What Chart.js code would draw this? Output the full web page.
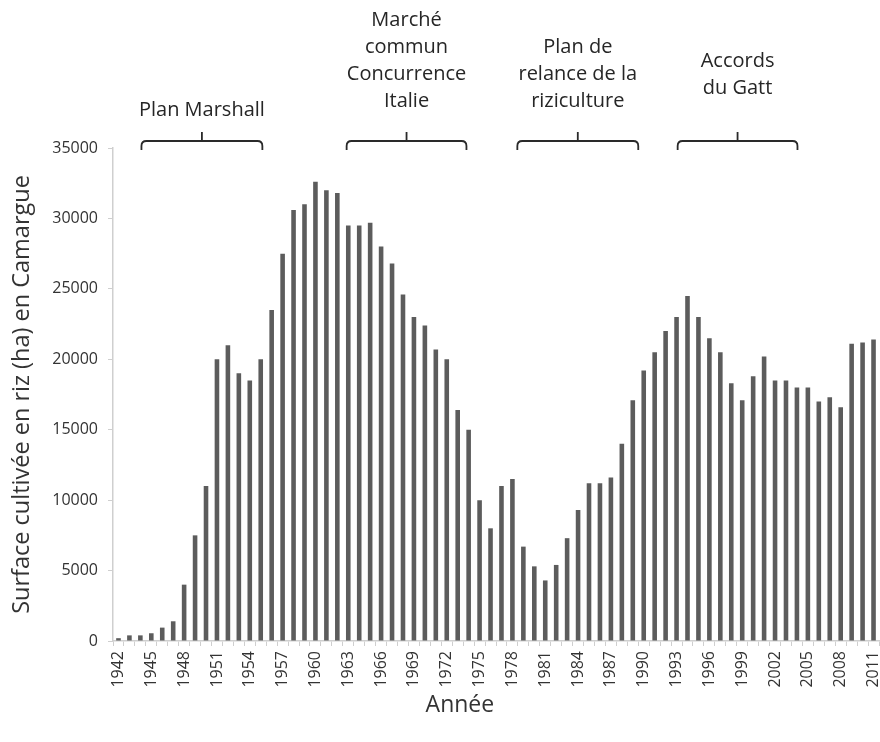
<!DOCTYPE html>
<html><head><meta charset="utf-8">
<script src="https://cdn.jsdelivr.net/npm/chart.js@4"></script>
<style>html,body{margin:0;padding:0;background:#fff;}canvas{display:block;}</style>
</head><body>
<canvas id="c" width="880" height="742"></canvas>
<script>
const years = [];
for (let y = 1942; y <= 2011; y++) years.push(String(y));
const surface = [
  200, 400, 400, 550, 950, 1400, 4000, 7500, 11000, 20000,
  21000, 19000, 18500, 20000, 23500, 27500, 30600, 31000, 32600, 32000,
  31800, 29500, 29500, 29700, 28000, 26800, 24600, 23000, 22400, 20700,
  20000, 16400, 15000, 10000, 8000, 11000, 11500, 6700, 5300, 4300,
  5400, 7300, 9300, 11200, 11200, 11600, 14000, 17100, 19200, 20500,
  22000, 23000, 24500, 23000, 21500, 20500, 18300, 17100, 18800, 20200,
  18500, 18500, 18000, 18000, 17000, 17300, 16600, 21100, 21200, 21400
];
const yTicks = [0, 5000, 10000, 15000, 20000, 25000, 30000, 35000];
const periodLabels = [
  ["Plan Marshall"],
  ["Marché", "commun", "Concurrence", "Italie"],
  ["Plan de", "relance de la", "riziculture"],
  ["Accords", "du Gatt"]
];
const periodStart = [1944.1, 1962.85, 1978.45, 1993.1];
const periodEnd = [1955.15, 1973.8, 1989.5, 2004.05];
const xTitle = 'Année';

const FONT = "'Open Sans', sans-serif";

const bracePlugin = {
  id: 'braces',
  afterDraw(chart) {
    const ctx = chart.ctx;
    const xs = chart.scales.x;
    const lineY = 141, endY = 150, tipY = 132, r = 5;
    ctx.save();
    ctx.strokeStyle = '#2a2a2a';
    ctx.lineWidth = 1.8;
    ctx.fillStyle = '#262626';
    ctx.font = "20px " + FONT;
    ctx.textAlign = 'center';
    ctx.textBaseline = 'middle';
    periodLabels.forEach((lines, k) => {
      const x0 = xs.getPixelForValue(periodStart[k] - 1942);
      const x1 = xs.getPixelForValue(periodEnd[k] - 1942);
      const xc = (x0 + x1) / 2;
      ctx.beginPath();
      ctx.moveTo(x0, endY);
      ctx.lineTo(x0, lineY + r);
      ctx.quadraticCurveTo(x0, lineY, x0 + r, lineY);
      ctx.lineTo(x1 - r, lineY);
      ctx.quadraticCurveTo(x1, lineY, x1, lineY + r);
      ctx.lineTo(x1, endY);
      ctx.moveTo(xc, lineY);
      ctx.lineTo(xc, tipY);
      ctx.stroke();
      const lh = 27;
      const lastY = k === 0 ? 110 : (k === 3 ? 88 : 101.5);
      lines.forEach((t, j) => {
        ctx.fillText(t, xc, lastY - (lines.length - 1 - j) * lh);
      });
    });
    // x axis title (offset left of the plot centre, as in the original)
    ctx.fillStyle = '#333';
    ctx.font = "23px " + FONT;
    ctx.fillText(xTitle, xs.getPixelForValue(31.2), 705);
    ctx.restore();
  }
};

new Chart(document.getElementById('c'), {
  type: 'bar',
  data: {
    labels: years,
    datasets: [{
      data: surface,
      backgroundColor: '#5c5c5c',
      borderWidth: 0,
      categoryPercentage: 1,
      barPercentage: 0.42
    }]
  },
  options: {
    responsive: false,
    animation: false,
    layout: { padding: { top: 148, right: 1, left: 0, bottom: 0 } },
    plugins: { legend: { display: false }, tooltip: { enabled: false } },
    scales: {
      x: {
        grid: { display: true, drawOnChartArea: false, drawTicks: true, tickLength: 5, color: '#cfcfcf', offset: true },
        border: { display: true, color: '#cfcfcf', width: 1.5 },
        ticks: {
          autoSkip: false, maxRotation: 90, minRotation: 90, padding: 5,
          color: '#333', font: { family: FONT, size: 16 },
          callback: function(v, i) { return i % 3 === 0 ? years[i] : ''; }
        },
        title: { display: false },
        afterFit(s) { s.height = 101; s.paddingRight = 0; s.paddingLeft = 0; }
      },
      y: {
        min: 0, max: 35000,
        afterBuildTicks(s) { s.ticks = yTicks.map(v => ({ value: v })); },
        grid: { display: true, drawOnChartArea: false, tickLength: 5, color: '#cfcfcf' },
        border: { display: true, color: '#cfcfcf', width: 1.5 },
        ticks: { padding: 10, color: '#333', font: { family: FONT, size: 16 }, callback: v => String(v) },
        title: { display: true, text: 'Surface cultivée en riz (ha) en Camargue', color: '#333', font: { family: FONT, size: 23.5 }, padding: { top: 8, bottom: 0 } },
        afterFit(s) { s.width = 113; s.paddingTop = 0; s.paddingBottom = 0; }
      }
    }
  },
  plugins: [bracePlugin]
});
</script>
</body></html>
